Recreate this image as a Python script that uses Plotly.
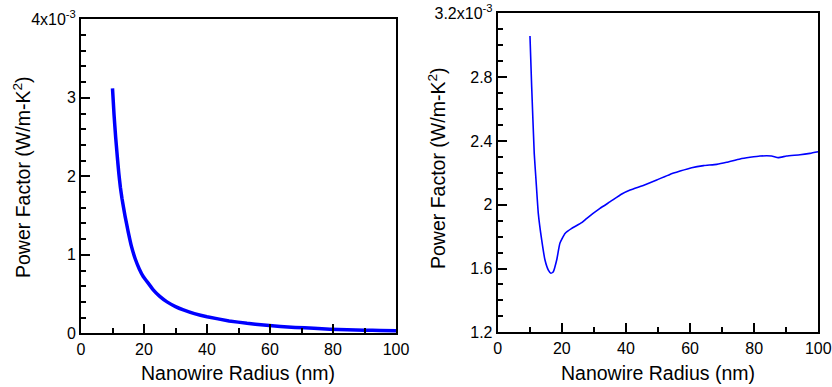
import plotly.graph_objects as go

# Left panel: power factor (x1e-3 W/m-K^2) vs nanowire radius (nm)
radius_left = [10, 10.5, 11, 11.5, 12, 12.5, 13, 14, 15, 16, 17.2, 18.5, 19.8, 21.5,
               23, 25, 27.3, 30, 32.5, 36, 40, 47, 52.7, 58, 63.3, 68, 73.9, 79,
               84.5, 90, 95, 100]
pf_left = [3.12, 2.78, 2.50, 2.26, 2.04, 1.86, 1.72, 1.49, 1.29, 1.11, 0.95, 0.82,
           0.72, 0.63, 0.55, 0.47, 0.40, 0.34, 0.297, 0.25, 0.21, 0.158, 0.127, 0.105,
           0.088, 0.075, 0.064, 0.053, 0.045, 0.04, 0.036, 0.034]

# Right panel
radius_right = [10.07, 10.6, 11.4, 11.95, 12.66, 13.72, 14.75, 15.8, 16.6, 17.35, 18.4,
                19.4, 21.0, 23.1, 26.2, 27.8, 31.9, 35.1, 38.7, 41.3, 45.4, 49.6, 53.7,
                56.9, 60.5, 64.2, 68.3, 71.4, 75.6, 78.7, 81.8, 85.4, 87.5, 90.1, 94.3,
                97.4, 100]
pf_right = [3.058, 2.74, 2.32, 2.155, 1.946, 1.779, 1.653, 1.59, 1.57, 1.58, 1.653,
            1.758, 1.82, 1.852, 1.887, 1.915, 1.977, 2.019, 2.067, 2.092, 2.121, 2.155, 2.19,
            2.211, 2.232, 2.245, 2.253, 2.266, 2.287, 2.297, 2.305, 2.305, 2.295, 2.305, 2.313,
            2.322, 2.332]

x_ticks = [0, 20, 40, 60, 80, 100]
x_ticktext = ["0", "20", "40", "60", "80", "100"]
yl_ticks = [0, 1, 2, 3, 4]
yl_ticktext = ["0", "1", "2", "3", "4x10<sup>-3</sup>"]
yr_ticks = [1.2, 1.6, 2.0, 2.4, 2.8, 3.2]
yr_ticktext = ["1.2", "1.6", "2", "2.4", "2.8", "3.2x10<sup>-3</sup>"]

x_title = "Nanowire Radius (nm)"
y_title = "Power Factor (W/m-K<sup>2</sup>)"

FONT = "Liberation Sans, Arial, sans-serif"
W, H = 832, 387

fig = go.Figure()
fig.add_trace(go.Scatter(x=radius_left, y=pf_left, mode="lines",
                         line=dict(color="#0000ff", width=3.5, shape="spline", smoothing=0.3),
                         xaxis="x", yaxis="y", showlegend=False))
fig.add_trace(go.Scatter(x=radius_right, y=pf_right, mode="lines",
                         line=dict(color="#0000ff", width=1.6, shape="spline", smoothing=0.4),
                         xaxis="x2", yaxis="y2", showlegend=False))

def px_x(p):
    return p / W

def px_y(p):
    return 1 - p / H

common_axis = dict(showline=True, linecolor="black", linewidth=2, mirror=True,
                   showgrid=False, zeroline=False, ticks="inside", tickcolor="black",
                   tickwidth=1.5, tickfont=dict(family=FONT, size=16, color="black"),
                   tickmode="array", automargin=False)

fig.update_layout(
    width=W, height=H,
    margin=dict(l=0, r=0, t=0, b=0),
    paper_bgcolor="white", plot_bgcolor="white",
    font=dict(family=FONT, color="black"),
    xaxis=dict(common_axis, domain=[px_x(81), px_x(396)], range=[0, 100],
               tickvals=x_ticks, ticktext=x_ticktext, ticklen=9, anchor="y",
               minor=dict(ticks="inside", ticklen=5, dtick=10, tick0=0, tickcolor="black", tickwidth=1.5)),
    yaxis=dict(common_axis, domain=[px_y(333.3), px_y(19.3)], range=[0, 4],
               tickvals=yl_ticks, ticktext=yl_ticktext, ticklen=9, anchor="x",
               minor=dict(ticks="inside", ticklen=5, dtick=0.2, tick0=0, tickcolor="black", tickwidth=1.5)),
    xaxis2=dict(common_axis, domain=[px_x(497.7), px_x(818.3)], range=[0, 100],
                tickvals=x_ticks, ticktext=x_ticktext, ticklen=9, anchor="y2",
                minor=dict(ticks="inside", ticklen=5, dtick=10, tick0=0, tickcolor="black", tickwidth=1.5)),
    yaxis2=dict(common_axis, domain=[px_y(332.3), px_y(13.3)], range=[1.2, 3.2],
                tickvals=yr_ticks, ticktext=yr_ticktext, ticklen=9, anchor="x2",
                minor=dict(ticks="inside", ticklen=5, dtick=0.1, tick0=1.2, tickcolor="black", tickwidth=1.5)),
)

title_font = dict(family=FONT, size=19.5, color="black")
annotations = [
    dict(text=x_title, x=px_x(238), y=px_y(373)),
    dict(text=x_title, x=px_x(658), y=px_y(373)),
    dict(text=y_title, x=px_x(22), y=px_y(177), textangle=-90),
    dict(text=y_title, x=px_x(437), y=px_y(168), textangle=-90),
]
for a in annotations:
    fig.add_annotation(xref="paper", yref="paper", showarrow=False,
                       xanchor="center", yanchor="middle", font=title_font, **a)

fig.write_html("out.html", config={"displayModeBar": False},
               post_script="document.body.style.margin='0';document.body.style.overflow='hidden';")
